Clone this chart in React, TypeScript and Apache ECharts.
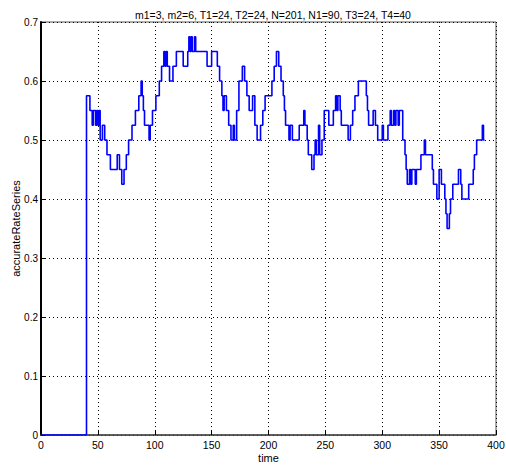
import React, { useEffect, useRef } from "react";
import * as echarts from "echarts";

const TITLE = "m1=3, m2=6, T1=24, T2=24, N=201, N1=90, T3=24, T4=40";
const X_LABEL = "time";
const Y_LABEL = "accurateRateSeries";

// change points of the step series: time, value held from that time on
const times = [
  0, 40, 43, 45, 46, 48, 49, 50, 51, 52, 54, 56, 58, 61, 67, 69, 71, 73, 75, 77,
  80, 83, 86, 88, 89, 90, 91, 95, 96, 98, 101, 104, 106, 108, 109, 110, 111, 113, 116, 119,
  125, 129, 130, 131, 132, 133, 135, 136, 146, 150, 155, 157, 159, 160, 161, 163, 165, 167, 169, 170,
  172, 174, 177, 179, 181, 183, 186, 188, 190, 193, 195, 197, 203, 205, 207, 209, 211, 213, 214, 215,
  218, 219, 221, 227, 231, 232, 234, 235, 238, 240, 241, 242, 244, 245, 247, 249, 253, 257, 259, 260,
  261, 263, 264, 270, 272, 274, 276, 279, 286, 287, 288, 292, 294, 296, 300, 301, 305, 307, 308, 310,
  311, 312, 314, 315, 318, 320, 321, 322, 324, 325, 326, 329, 330, 334, 337, 338, 344, 345, 348, 350,
  352, 355, 356, 357, 359, 360, 362, 367, 369, 370, 376, 380, 381, 383, 388, 389, 390,
];
const rates = [
  0, 0.575, 0.55, 0.525, 0.55, 0.525, 0.55, 0.525, 0.55, 0.5, 0.525, 0.5, 0.475, 0.45, 0.475, 0.45, 0.425, 0.45, 0.475, 0.5,
  0.525, 0.55, 0.575, 0.6, 0.575, 0.55, 0.525, 0.5, 0.525, 0.55, 0.575, 0.6, 0.625, 0.65, 0.625, 0.65, 0.625, 0.6, 0.625, 0.65,
  0.625, 0.65, 0.675, 0.65, 0.675, 0.65, 0.675, 0.65, 0.625, 0.65, 0.625, 0.6, 0.575, 0.55, 0.575, 0.55, 0.525, 0.5, 0.525, 0.5,
  0.55, 0.6, 0.625, 0.6, 0.575, 0.55, 0.575, 0.525, 0.5, 0.525, 0.55, 0.575, 0.6, 0.625, 0.65, 0.625, 0.6, 0.575, 0.55, 0.525,
  0.5, 0.525, 0.5, 0.525, 0.55, 0.525, 0.5, 0.475, 0.45, 0.475, 0.5, 0.475, 0.525, 0.475, 0.5, 0.55, 0.525, 0.55, 0.575, 0.55,
  0.575, 0.55, 0.525, 0.5, 0.525, 0.55, 0.575, 0.6, 0.575, 0.55, 0.525, 0.55, 0.525, 0.5, 0.525, 0.5, 0.525, 0.55, 0.525, 0.55,
  0.525, 0.55, 0.525, 0.55, 0.5, 0.475, 0.45, 0.425, 0.45, 0.425, 0.45, 0.425, 0.45, 0.475, 0.5, 0.475, 0.45, 0.425, 0.4, 0.45,
  0.425, 0.4, 0.375, 0.35, 0.375, 0.4, 0.425, 0.45, 0.425, 0.4, 0.425, 0.45, 0.475, 0.5, 0.525, 0.5, 0.5,
];

const X_MIN = 0;
const X_MAX = 400;
const X_STEP = 50;
const Y_MIN = 0;
const Y_MAX = 0.7;
const Y_STEP = 0.1;

export default function App() {
  const ref = useRef<HTMLDivElement>(null);

  useEffect(() => {
    if (!ref.current) return;
    const chart = echarts.init(ref.current, undefined, { renderer: "svg" });
    const font = "Liberation Sans, Arial, sans-serif";
    const data = times.map((t, i) => [t, rates[i]]);
    chart.setOption({
      animation: false,
      backgroundColor: "#ffffff",
      title: {
        text: TITLE,
        left: 268,
        top: 4,
        textAlign: "center",
        textStyle: { fontFamily: font, fontSize: 10.5, fontWeight: "normal", color: "#000" },
      },
      grid: {
        left: 41,
        right: 10,
        top: 22,
        bottom: 35,
        outerBoundsMode: "none",
        containLabel: false,
        show: true,
        borderColor: "#555",
        borderWidth: 1,
      },
      xAxis: {
        type: "value",
        min: X_MIN,
        max: X_MAX,
        interval: X_STEP,
        name: X_LABEL,
        nameLocation: "middle",
        nameGap: 17,
        nameMoveOverlap: false,
        nameTextStyle: { fontFamily: font, fontSize: 11, color: "#000" },
        axisLine: { show: true, lineStyle: { color: "#444", width: 1.5 } },
        axisTick: { show: true, inside: true, length: 4, lineStyle: { color: "#000" } },
        axisLabel: { fontFamily: font, fontSize: 10.5, color: "#000", margin: 4 },
        splitLine: { show: true, lineStyle: { color: "#000", type: [1, 3], width: 1 } },
      },
      yAxis: {
        type: "value",
        min: Y_MIN,
        max: Y_MAX,
        interval: Y_STEP,
        name: Y_LABEL,
        nameLocation: "middle",
        nameGap: 20,
        nameMoveOverlap: false,
        nameTextStyle: { fontFamily: font, fontSize: 11, color: "#000" },
        axisLine: { show: true, lineStyle: { color: "#000", width: 2 } },
        axisTick: { show: true, inside: true, length: 4, lineStyle: { color: "#000" } },
        axisLabel: {
          fontFamily: font,
          fontSize: 10,
          color: "#000",
          margin: 3,
          formatter: (v: number) => String(Math.round(v * 10) / 10),
        },
        splitLine: { show: true, lineStyle: { color: "#000", type: [1, 3], width: 1 } },
      },
      series: [
        {
          type: "line",
          step: "end",
          data,
          showSymbol: false,
          symbol: "none",
          lineStyle: { color: "#0000ff", width: 1.6 },
          z: 5,
        },
      ],
    });
    return () => chart.dispose();
  }, []);

  return (
    <div
      ref={ref}
      style={{ position: "fixed", left: 0, top: 0, width: 506, height: 470, background: "#fff" }}
    />
  );
}
